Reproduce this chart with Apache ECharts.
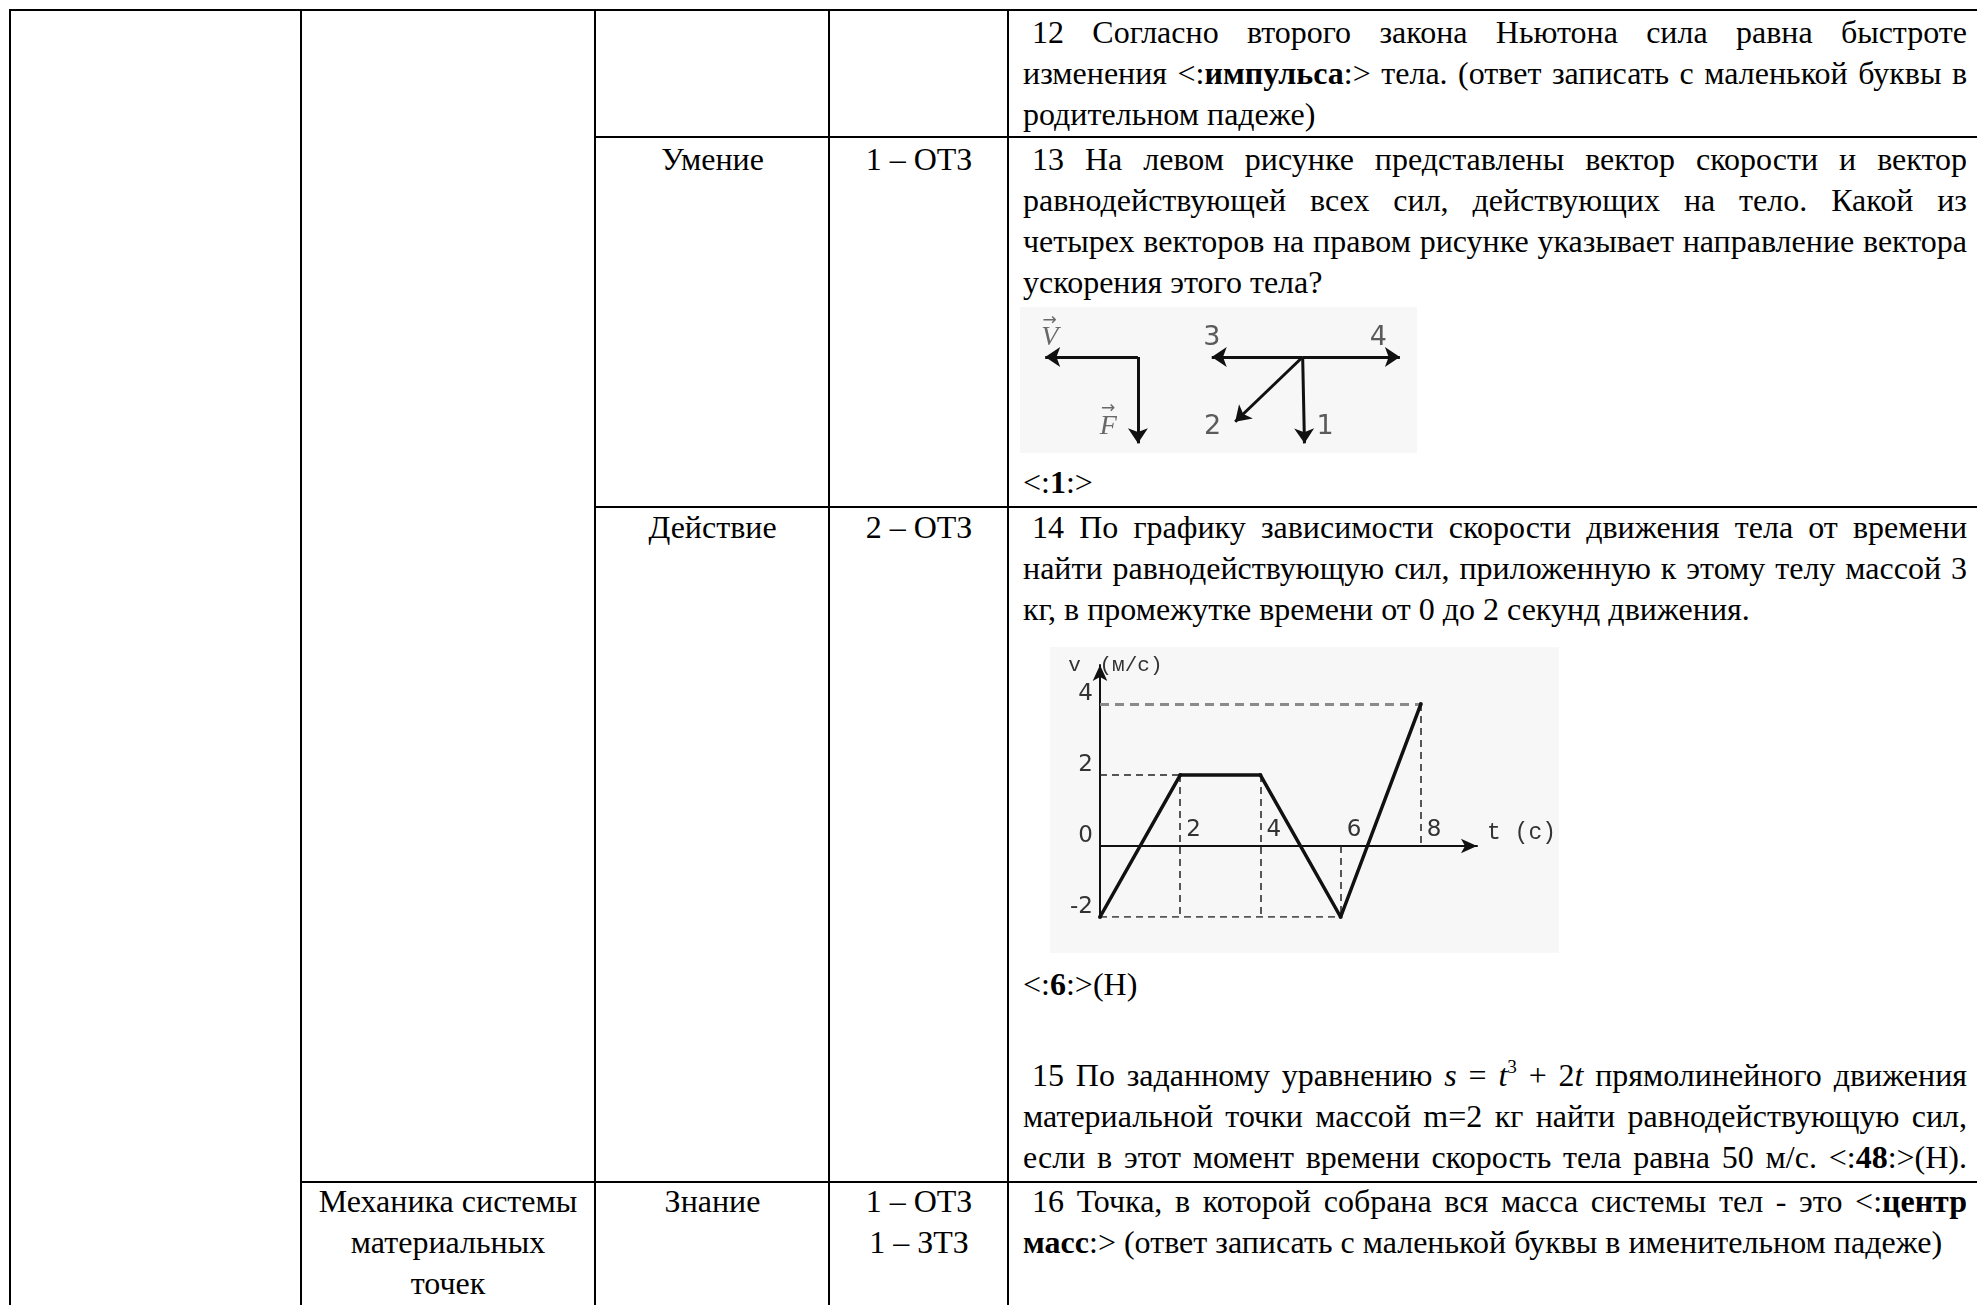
<!DOCTYPE html>
<html lang="ru">
<head>
<meta charset="utf-8">
<title>Механика — тестовые задания</title>
<script src="https://cdn.jsdelivr.net/npm/echarts/dist/echarts.min.js"></script>
<style>
  html, body { margin: 0; padding: 0; background: #fff; }
  body { width: 1977px; height: 1305px; overflow: hidden; position: relative;
         font-family: 'Liberation Serif', 'Times New Roman', serif; color: #000; }
  .hl, .vl { position: absolute; background: #000; }
  .hl { height: 2px; }
  .vl { width: 2px; top: 9px; height: 1300px; }
  .ln { position: absolute; left: 1023px; width: 944px; font-size: 32px; line-height: 41px; }
  .j { text-align: justify; text-align-last: justify; }
  .ind { text-indent: 9px; }
  .c { position: absolute; font-size: 32px; line-height: 41px; text-align: center; }
  sup { font-size: 60%; line-height: 0; vertical-align: 0.7em; }
  #vectors { position: absolute; left: 1020px; top: 307px; width: 397px; height: 146px; }
  #graph { position: absolute; left: 1050px; top: 647px; width: 509px; height: 306px; }
</style>
</head>
<body>
  <!-- сетка таблицы -->
  <div class="hl" style="left:9px; top:9px; width:1975px"></div>
  <div class="hl" style="left:594px; top:136px; width:1390px"></div>
  <div class="hl" style="left:594px; top:506px; width:1390px"></div>
  <div class="hl" style="left:300px; top:1181px; width:1684px"></div>
  <div class="vl" style="left:9px"></div>
  <div class="vl" style="left:300px"></div>
  <div class="vl" style="left:594px"></div>
  <div class="vl" style="left:828px"></div>
  <div class="vl" style="left:1007px"></div>

  <!-- 12 -->
  <div class="ln j ind" style="top:12px">12 Согласно второго закона Ньютона сила равна быстроте</div>
  <div class="ln j" style="top:53px">изменения &lt;:<b>импульса</b>:&gt; тела. (ответ записать с маленькой буквы в</div>
  <div class="ln" style="top:94px">родительном падеже)</div>

  <!-- 13 -->
  <div class="c" style="left:596px; width:233px; top:139px">Умение</div>
  <div class="c" style="left:830px; width:178px; top:139px">1 – ОТЗ</div>
  <div class="ln j ind" style="top:139px">13 На левом рисунке представлены вектор скорости и вектор</div>
  <div class="ln j" style="top:180px">равнодействующей всех сил, действующих на тело. Какой из</div>
  <div class="ln j" style="top:221px">четырех векторов на правом рисунке указывает направление вектора</div>
  <div class="ln" style="top:262px">ускорения этого тела?</div>
  <div id="vectors"></div>
  <div class="ln" style="top:462px">&lt;:<b>1</b>:&gt;</div>

  <!-- 14, 15 -->
  <div class="c" style="left:596px; width:233px; top:507px">Действие</div>
  <div class="c" style="left:830px; width:178px; top:507px">2 – ОТЗ</div>
  <div class="ln j ind" style="top:507px">14 По графику зависимости скорости движения тела от времени</div>
  <div class="ln j" style="top:548px">найти равнодействующую сил, приложенную к этому телу массой 3</div>
  <div class="ln" style="top:589px">кг, в промежутке времени от 0 до 2 секунд движения.</div>
  <div id="graph"></div>
  <div class="ln" style="top:964px">&lt;:<b>6</b>:&gt;(Н)</div>
  <div class="ln j ind" style="top:1055px">15 По заданному уравнению <i>s</i> = <i>t</i><sup>3</sup> + 2<i>t</i> прямолинейного движения</div>
  <div class="ln j" style="top:1096px">материальной точки массой m=2 кг найти равнодействующую сил,</div>
  <div class="ln j" style="top:1137px">если в этот момент времени скорость тела равна 50 м/с. &lt;:<b>48</b>:&gt;(Н).</div>

  <!-- 16 -->
  <div class="c" style="left:302px; width:292px; top:1181px">Механика системы<br>материальных<br>точек</div>
  <div class="c" style="left:596px; width:233px; top:1181px">Знание</div>
  <div class="c" style="left:830px; width:178px; top:1181px">1 – ОТЗ<br>1 – ЗТЗ</div>
  <div class="ln j ind" style="top:1181px">16 Точка, в которой собрана вся масса системы тел - это &lt;:<b>центр</b></div>
  <div class="ln" style="top:1222px"><b>масс</b>:&gt; (ответ записать с маленькой буквы в именительном падеже)</div>

<script>
// ---- рисунок к заданию 13: векторы (единица ~ длина вектора) ----
const vectorNames = ['V', 'F', '3', '4', '1', '2'];
const vectorStart = [[0, 0], [0, 0], [1.83, 0], [1.83, 0], [1.83, 0], [1.83, 0]];
const vectorEnd = [[-1.03, 0], [0, -0.96], [0.82, 0], [2.91, 0], [1.85, -0.96], [1.08, -0.72]];
const vectorLabelAt = [[-0.98, 0.26], [-0.33, -0.72], [0.82, 0.21], [2.67, 0.21], [2.08, -0.78], [0.83, -0.78]];

// ---- график v(t) к заданию 14 ----
const tValues = [0, 2, 4, 6, 8];
const vValues = [-2, 2, 2, -2, 4];
const tTickLabels = [2, 4, 6, 8];
const vTickLabels = [-2, 0, 2, 4];
// пунктирные выноски: [t1, v1, t2, v2]
const guideSegments = [[0, 2, 2, 2], [0, -2, 6, -2], [2, 2, 2, -2], [4, 2, 4, -2], [6, 0, 6, -2], [8, 4, 8, 0]];
const guideTop = [[0, 4, 8, 4]];

var vecChart = echarts.init(document.getElementById('vectors'));
vecChart.setOption({
  animation: false,
  backgroundColor: '#f7f7f7',
  grid: { left: 0, right: 0, top: 0, bottom: 0 },
  xAxis: { type: 'value', min: -1.31, max: 3.1, show: false },
  yAxis: { type: 'value', min: -1.067, max: 0.556, show: false },
  series: [
    {
      type: 'lines',
      coordinateSystem: 'cartesian2d',
      symbol: ['none', 'arrow'],
      symbolSize: 15,
      lineStyle: { color: '#111', width: 3, opacity: 1, curveness: 0 },
      data: vectorStart.map((s, i) => ({ coords: [s, vectorEnd[i]] }))
    },
    {
      type: 'scatter',
      symbolSize: 1,
      itemStyle: { color: 'rgba(0,0,0,0)' },
      label: {
        show: true,
        position: 'inside',
        color: '#333',
        fontFamily: 'DejaVu Sans',
        fontSize: 27,
        formatter: function (p) {
          const n = vectorNames[p.dataIndex];
          if (n === 'V' || n === 'F') return '{a|\u2192}\n{b|' + n + '}';
          return n;
        },
        rich: {
          a: { fontSize: 17, lineHeight: 9, color: '#444', align: 'center' },
          b: { fontSize: 28, lineHeight: 26, fontStyle: 'italic', fontFamily: 'Liberation Serif', color: '#444', align: 'center' }
        }
      },
      data: vectorLabelAt
    }
  ]
});

var myChart = echarts.init(document.getElementById('graph'));
myChart.setOption({
  animation: false,
  backgroundColor: '#f7f7f7',
  grid: { left: 43, top: 18, width: 404, height: 252 },
  xAxis: {
    type: 'value',
    min: 0,
    max: 9.4,
    interval: 2,
    // ось t проходит через v = 0 (2 деления выше нижнего края)
    offset: -71,
    name: 't (с)',
    nameLocation: 'end',
    nameGap: 10,
    nameTextStyle: { color: '#333', fontFamily: 'Liberation Mono', fontSize: 23, verticalAlign: 'bottom', lineHeight: 26 },
    axisLine: { onZero: false, symbol: ['none', 'arrow'], symbolSize: [11, 16], lineStyle: { color: '#111', width: 2 } },
    axisTick: { show: false },
    splitLine: { show: false },
    axisLabel: {
      inside: true,
      align: 'left',
      margin: 4,
      padding: [0, 0, 0, 6],
      color: '#333',
      fontFamily: 'DejaVu Sans',
      fontSize: 23,
      formatter: v => (tTickLabels.indexOf(v) >= 0 ? String(v) : '')
    }
  },
  yAxis: {
    type: 'value',
    min: -2,
    max: 5.1,
    interval: 2,
    name: '{p|}{v|v}{g|}{u|(м/с)}',
    nameLocation: 'end',
    nameGap: 0,
    nameTextStyle: {
      verticalAlign: 'middle',
      color: '#333',
      fontFamily: 'Liberation Mono',
      fontSize: 21,
      rich: {
        p: { width: 31 },
        v: { width: 12, fontFamily: 'Liberation Mono', fontSize: 21, color: '#333' },
        g: { width: 19 },
        u: { fontFamily: 'Liberation Mono', fontSize: 21, color: '#333' }
      }
    },
    axisLine: { show: true, symbol: ['none', 'arrow'], symbolSize: [11, 16], lineStyle: { color: '#111', width: 2 } },
    axisTick: { show: false },
    splitLine: { show: false },
    axisLabel: {
      margin: 7,
      color: '#333',
      fontFamily: 'DejaVu Sans',
      fontSize: 23,
      verticalAlign: 'bottom',
      lineHeight: 20,
      formatter: v => (vTickLabels.indexOf(v) >= 0 ? String(v) : '')
    }
  },
  series: [
    {
      type: 'lines',
      coordinateSystem: 'cartesian2d',
      silent: true,
      lineStyle: { color: '#222', width: 1.5, type: [7, 5], opacity: 1, curveness: 0 },
      data: guideSegments.map(g => ({ coords: [[g[0], g[1]], [g[2], g[3]]] }))
    },
    {
      type: 'lines',
      coordinateSystem: 'cartesian2d',
      silent: true,
      lineStyle: { color: '#8a8a8a', width: 3, type: [9, 6], opacity: 1, curveness: 0 },
      data: guideTop.map(g => ({ coords: [[g[0], g[1]], [g[2], g[3]]] }))
    },
    {
      name: 'v',
      type: 'line',
      symbol: 'circle',
      symbolSize: 4,
      showSymbol: true,
      itemStyle: { color: '#111' },
      lineStyle: { color: '#111', width: 3.5 },
      data: tValues.map((t, i) => [t, vValues[i]])
    }
  ]
});
</script>
</body>
</html>
